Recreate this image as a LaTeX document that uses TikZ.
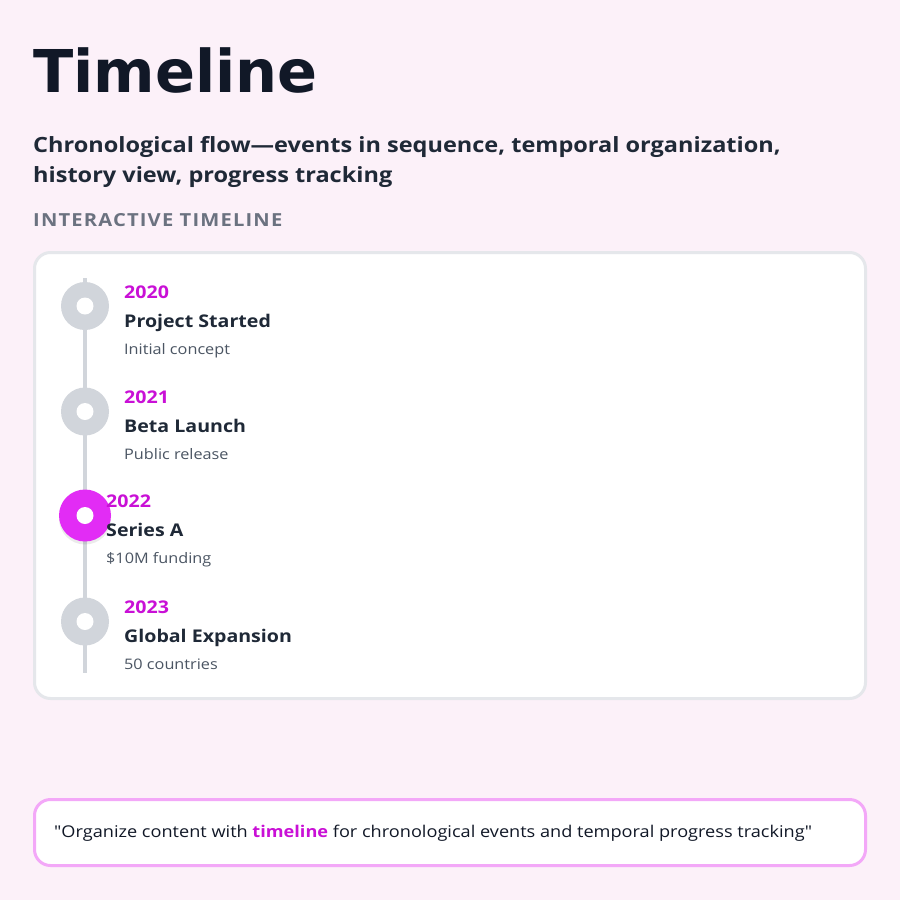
\documentclass[tikz,border=0pt]{standalone}
\usepackage{fontspec}
\setmainfont{Open Sans}[FakeStretch=1.12]
\newfontfamily\headfont{DejaVu Sans}
\usetikzlibrary{shadows}

\definecolor{ink}{HTML}{111827}
\definecolor{slate}{HTML}{1F2937}
\definecolor{mute}{HTML}{6B7280}
\definecolor{soft}{HTML}{4B5563}
\definecolor{rail}{HTML}{D1D5DB}
\definecolor{edge}{HTML}{E5E7EB}
\definecolor{plum}{HTML}{C910D6}
\definecolor{hot}{HTML}{E22CF5}
\definecolor{pinkline}{HTML}{F3A8F8}
\definecolor{bg}{HTML}{FCF1F9}

\tikzset{
  year/.style={anchor=base west, inner sep=0, text=plum, font=\fontsize{17.5}{20}\selectfont\bfseries},
  event/.style={anchor=base west, inner sep=0, text=slate, font=\fontsize{17.5}{22}\selectfont\bfseries},
  note/.style={anchor=base west, inner sep=0, text=soft, font=\fontsize{14.5}{18}\selectfont},
  dot/.style={circle, fill=rail, minimum size=48pt, inner sep=0},
  hole/.style={circle, fill=white, minimum size=17pt, inner sep=0},
}

\begin{document}
\begin{tikzpicture}[x=1pt, y=-1pt]
\fill[bg] (0,0) rectangle (900,900);

% heading
\node[anchor=base west, inner sep=0, text=ink, font=\headfont\fontsize{59}{60}\selectfont\bfseries] (title) at (33,92) {Timeline};
\node[anchor=base west, inner sep=0, text=slate, font=\fontsize{21}{30}\selectfont\bfseries] (sub1) at (33,152) {Chronological flow---events in sequence, temporal organization,};
\node[anchor=base west, inner sep=0, text=slate, font=\fontsize{21}{30}\selectfont\bfseries] (sub2) at (33,182) {history view, progress tracking};
\node[anchor=base west, inner sep=0, text=mute, font=\fontsize{18}{20}\selectfont\bfseries\addfontfeatures{LetterSpace=6.5}] (label) at (33,226) {INTERACTIVE TIMELINE};

% card
\draw[edge, line width=3pt, fill=white, rounded corners=16pt] (34.5,252.5) rectangle (865.5,698.5);

% rail
\coordinate (top) at (85,278);
\coordinate (bottom) at (85,673);
\draw[rail, line width=4pt] (top) -- (bottom);

\foreach \i/\c in {1/306, 2/411.5, 4/621.5} {
  \node[dot] (dot\i) at (85,\c) {};
  \node[hole] at (dot\i) {};
}
\node[dot, fill=hot, minimum size=52pt, drop shadow={shadow xshift=0pt, shadow yshift=-3pt, opacity=0.08, fill=black}] (dot3) at (85,515.5) {};
\node[hole] at (dot3) {};

% events
\foreach \i/\c/\x/\yr/\ttl/\sub in {1/306/124/2020/Project Started/Initial concept,
    2/411.5/124/2021/Beta Launch/Public release,
    3/515.5/106/2022/Series A/\$10M funding,
    4/621.5/124/2023/Global Expansion/50 countries} {
  \node[year] (yr\i) at (\x,\c-8) {\yr};
  \node[event] (ev\i) at (\x,\c+21) {\ttl};
  \node[note] (nt\i) at (\x,\c+48) {\sub};
}

% quote box
\draw[pinkline, line width=3pt, fill=white, rounded corners=16pt] (34.5,799.5) rectangle (865.5,865.5);
\node[anchor=base west, inner sep=0, text=ink, font=\fontsize{16.2}{20}\selectfont\addfontfeatures{Ligatures=TeXOff}] (quote) at (54,837)
  {"Organize content with \textcolor{plum}{\bfseries timeline} for chronological events and temporal progress tracking"};
\end{tikzpicture}
\end{document}
